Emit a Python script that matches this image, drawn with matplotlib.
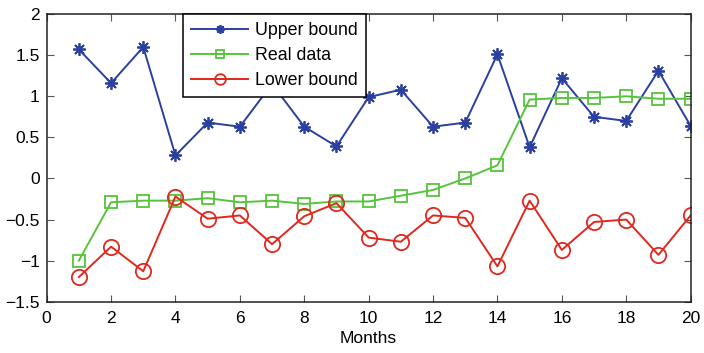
import matplotlib.pyplot as plt
import numpy as np

plt.rcParams['font.family'] = ['Liberation Sans', 'DejaVu Sans']

months = np.arange(1, 21)
upper = [1.57, 1.16, 1.60, 0.28, 0.68, 0.63, 1.15, 0.63, 0.39, 0.99,
         1.08, 0.63, 0.68, 1.51, 0.38, 1.22, 0.75, 0.70, 1.31, 0.64]
real = [-1.00, -0.29, -0.27, -0.27, -0.24, -0.29, -0.27, -0.31, -0.28, -0.28,
        -0.21, -0.14, 0.00, 0.16, 0.96, 0.98, 0.98, 1.00, 0.97, 0.97]
lower = [-1.20, -0.83, -1.13, -0.22, -0.49, -0.45, -0.80, -0.46, -0.30, -0.72,
         -0.77, -0.45, -0.48, -1.07, -0.27, -0.87, -0.53, -0.50, -0.93, -0.45]

blue = '#2b3f9e'
green = '#55c43c'
red = '#e0281e'

fig = plt.figure(figsize=(7.04, 3.53), dpi=100)
ax = fig.add_axes([0.0663, 0.1453, 0.9147, 0.8147])

ax.plot(months, upper, color=blue, lw=1.4, marker=(8, 2, 0), ms=9, mew=1.3,
        label='Upper bound')
ax.plot(months, real, color=green, lw=1.4, marker='s', ms=8, mfc='none',
        mew=1.3, label='Real data')
ax.plot(months, lower, color=red, lw=1.4, marker='o', ms=11, mfc='none',
        mew=1.3, label='Lower bound')

ax.set_xlim(0, 20)
ax.set_ylim(-1.5, 2)
ax.set_xticks(np.arange(0, 21, 2))
ax.set_yticks(np.arange(-1.5, 2.01, 0.5))
ax.set_yticklabels(['\u22121.5', '\u22121', '\u22120.5', '0', '0.5', '1', '1.5', '2'])
ax.tick_params(direction='in', top=True, right=True, labelsize=12.5,
               length=5, color='#555555')
ax.tick_params(axis='x', pad=7)
ax.tick_params(axis='y', pad=5)
for s in ax.spines.values():
    s.set_linewidth(1.1)
    s.set_color('#222222')
ax.set_xlabel('Months', fontsize=12.5, labelpad=3)

# opaque legend box sitting on the top edge of the axes
leg = ax.legend(loc='upper left', bbox_to_anchor=(0.212, 1.0), fontsize=12.8,
                frameon=True, fancybox=False, edgecolor='black', framealpha=1,
                handlelength=3.2, borderpad=0.45, labelspacing=0.45,
                handletextpad=0.4, borderaxespad=0, markerscale=0.7)
leg.get_frame().set_linewidth(1.1)
leg.set_zorder(5)

fig.savefig('out.png', dpi=100)
